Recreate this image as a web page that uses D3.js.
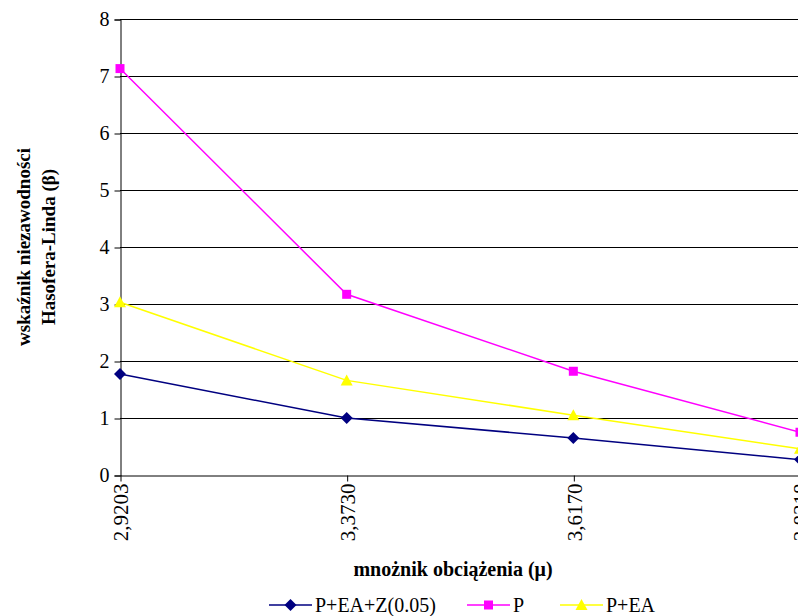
<!DOCTYPE html>
<html><head><meta charset="utf-8">
<script src="https://cdn.jsdelivr.net/npm/d3@7"></script>
<style>html,body{margin:0;padding:0;overflow:hidden;background:#fff}</style>
</head><body>
<svg id="c" width="798" height="616"></svg>
<script>
const categories = ["2,9203", "3,3730", "3,6170", "3,8318"];
const seriesNames = ["P+EA+Z(0.05)", "P", "P+EA"];
const valsPEAZ = [1.77, 1.00, 0.65, 0.27];
const valsP = [7.13, 3.17, 1.82, 0.75];
const valsPEA = [3.03, 1.66, 1.05, 0.46];
const yTicks = [0, 1, 2, 3, 4, 5, 6, 7, 8];
const seriesColors = ["#000080", "#FF00FF", "#FFFF00"];
const seriesShapes = ["diamond", "square", "triangle"];

const svg = d3.select("#c");
const font = "'Liberation Serif','Times New Roman',serif";
const x = d3.scalePoint().domain(categories).range([120, 800]);
const y = d3.scaleLinear().domain([0, 8]).range([475, 19]);

// gridlines
svg.append("g").selectAll("line").data(yTicks.filter(d => d > 0)).join("line")
  .attr("x1", 120).attr("x2", 800)
  .attr("y1", d => Math.round(y(d)) + 0.5).attr("y2", d => Math.round(y(d)) + 0.5)
  .attr("stroke", "#000").attr("stroke-width", 1);

// y axis
const yAxis = svg.append("g").attr("transform", "translate(120.5,0.5)")
  .call(d3.axisLeft(y).tickValues(yTicks).tickSize(6).tickPadding(5).tickFormat(d3.format("d")));
yAxis.select(".domain").attr("stroke", "#000");
yAxis.selectAll("text").attr("font-family", font).attr("font-size", 20).attr("fill", "#000");

// x axis
const xAxis = svg.append("g").attr("transform", "translate(0.5,475.5)")
  .call(d3.axisBottom(x).tickSize(6).tickSizeOuter(0));
xAxis.select(".domain").attr("stroke", "#000");
xAxis.selectAll("text")
  .attr("font-family", font).attr("font-size", 21).attr("fill", "#000")
  .attr("transform", "rotate(-90)").attr("text-anchor", "end")
  .attr("x", -8).attr("y", 0).attr("dy", "0.35em");

const data = [valsPEAZ, valsP, valsPEA];
const line = d3.line().x((d, i) => x(categories[i])).y(d => y(d));

function marker(g, shape, color) {
  if (shape === "square") g.append("rect").attr("x", -4.5).attr("y", -4.5).attr("width", 9).attr("height", 9).attr("fill", color);
  if (shape === "diamond") g.append("path").attr("d", "M0,-6L6,0L0,6L-6,0Z").attr("fill", color);
  if (shape === "triangle") g.append("path").attr("d", "M0,-6L6,5L-6,5Z").attr("fill", color);
}

[2, 0, 1].forEach(si => {
  svg.append("path").datum(data[si]).attr("d", line)
    .attr("fill", "none").attr("stroke", seriesColors[si]).attr("stroke-width", 1.5);
  data[si].forEach((v, i) => {
    const g = svg.append("g").attr("transform", `translate(${x(categories[i])},${y(v)})`);
    marker(g, seriesShapes[si], seriesColors[si]);
  });
});

// axis titles
const yt = svg.append("text")
  .attr("font-family", font).attr("font-weight", "bold").attr("font-size", 19).attr("text-anchor", "middle");
yt.append("tspan").attr("x", 0).attr("y", 0).text("wskaźnik niezawodności");
yt.append("tspan").attr("x", 0).attr("y", 25).text("Hasofera-Linda (β)");
yt.attr("transform", "translate(30,247) rotate(-90)");

svg.append("text").attr("x", 453).attr("y", 576)
  .attr("font-family", font).attr("font-weight", "bold").attr("font-size", 20).attr("text-anchor", "middle")
  .text("mnożnik obciążenia (μ)");

// legend
const legX = [269, 467, 560];
seriesNames.forEach((n, si) => {
  const g = svg.append("g").attr("transform", `translate(${legX[si]},605)`);
  g.append("line").attr("x1", 0).attr("x2", 43).attr("y1", 0).attr("y2", 0)
    .attr("stroke", seriesColors[si]).attr("stroke-width", 1.5);
  const m = g.append("g").attr("transform", "translate(21.5,0)");
  marker(m, seriesShapes[si], seriesColors[si]);
  g.append("text").attr("x", 46).attr("y", 0).attr("dy", "0.35em")
    .attr("font-family", font).attr("font-size", 20).text(n);
});
</script>
</body></html>
